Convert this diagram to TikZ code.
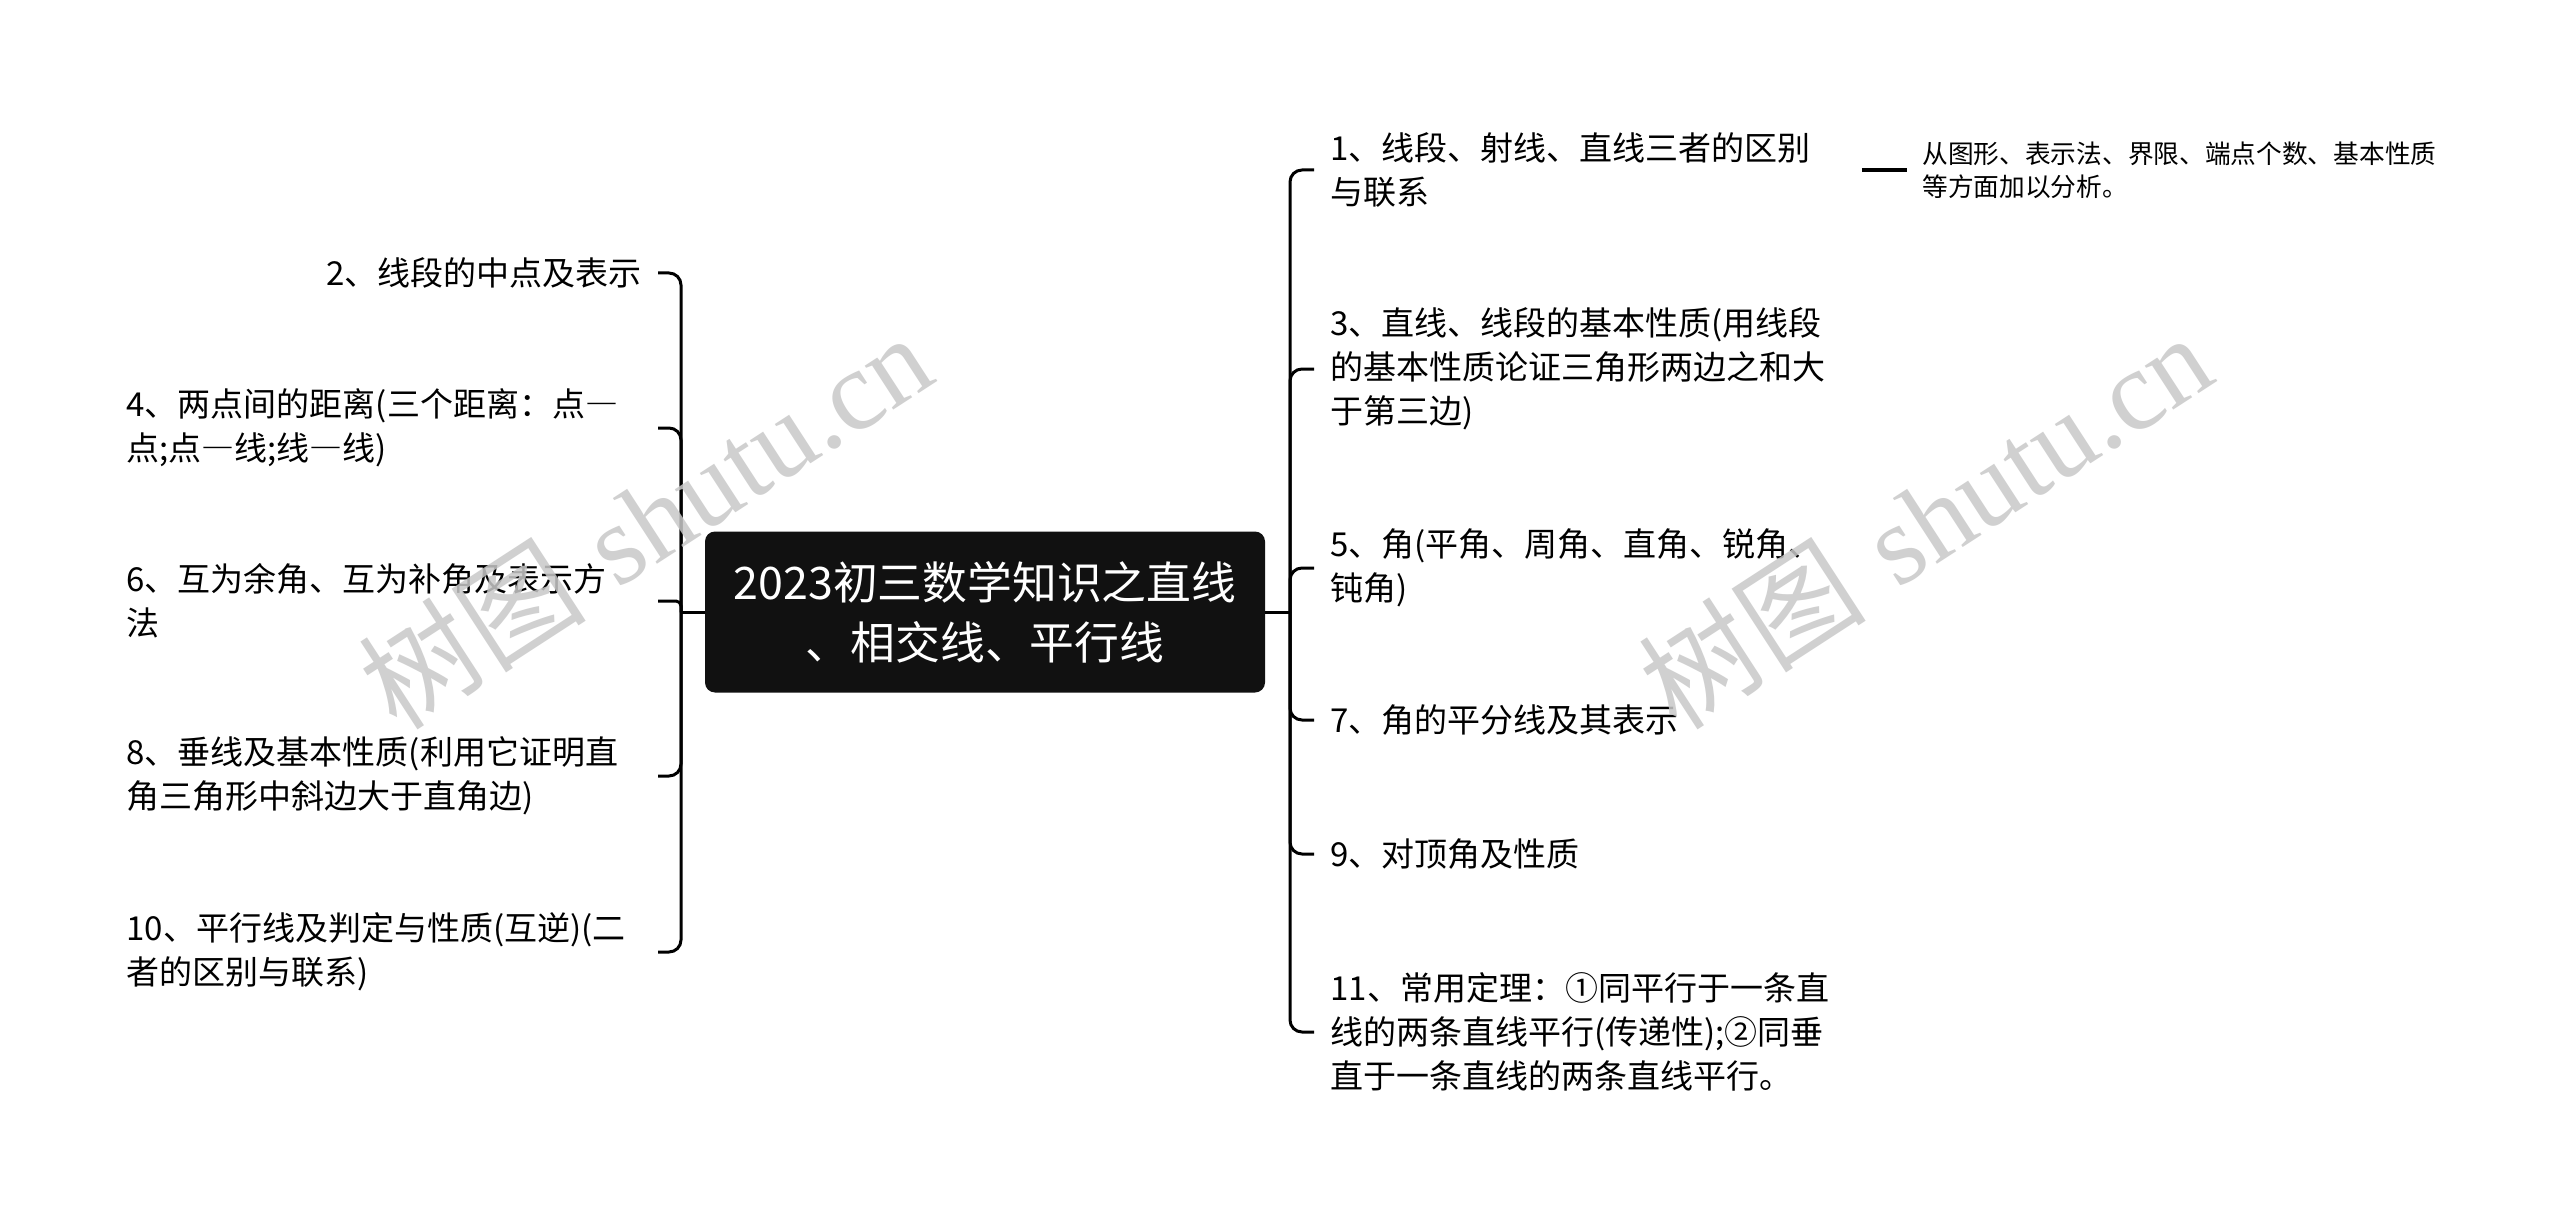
\documentclass[tikz,border=0pt]{standalone}
\usepackage{fontspec}
\newfontfamily\cjk{Noto Sans CJK SC}
\newfontfamily\wmserif{Liberation Serif}
\newcommand{\fwdash}{{\addfontfeature{CharacterWidth=Full}—}}
\definecolor{rootfill}{RGB}{17,17,17}
\definecolor{wmgray}{RGB}{200,200,200}
\tikzset{
  conn/.style={draw=black, line width=1.5pt},
  rootbox/.style={fill=rootfill, draw=none, rounded corners=5pt, text=white,
    minimum width=280pt, minimum height=80.5pt, inner sep=0pt, align=center,
    font=\cjk\fontsize{22.4}{30}\selectfont},
  leaf/.style={inner xsep=8pt, inner ysep=2pt, text=black,
    font=\cjk\fontsize{16.5}{22}\selectfont},
  leafw/.style={leaf, text width=257.5pt, align=left},
  detail/.style={inner xsep=7.5pt, inner ysep=2pt, align=left, text=black,
    font=\cjk\fontsize{12.85}{16.5}\selectfont},
  wm/.style={text=wmgray, opacity=0.85, inner sep=0pt, font=\fontsize{57}{64}\selectfont}
}
\begin{document}
\begin{tikzpicture}[x=0.5pt,y=-0.5pt]
\fill[white] (0,0) rectangle (2560,1225);
\useasboundingbox (0,0) rectangle (2560,1225);

\node[rootbox] (root) at (985,612) {2023初三数学知识之直线\\、相交线、平行线};

\coordinate (jl) at (681,612);
\coordinate (jr) at (1290,612);

% left
\node[leaf, anchor=east] (c2) at (658,273) {2、线段的中点及表示};
\node[leafw, anchor=east] (c4) at (658,428) {4、两点间的距离(三个距离：点\fwdash\\点;点\fwdash 线;线\fwdash 线)};
\node[leafw, anchor=east] (c6) at (658,601) {6、互为余角、互为补角及表示方\\法};
\node[leafw, anchor=east] (c8) at (658,776) {8、垂线及基本性质(利用它证明直\\角三角形中斜边大于直角边)};
\node[leafw, anchor=east] (c10) at (658,952) {10、平行线及判定与性质(互逆)(二\\者的区别与联系)};

% right
\node[leafw, anchor=west] (c1) at (1314,170) {1、线段、射线、直线三者的区别\\与联系};
\node[leafw, anchor=west] (c3) at (1314,369) {3、直线、线段的基本性质(用线段\\的基本性质论证三角形两边之和大\\于第三边)};
\node[leafw, anchor=west] (c5) at (1314,568) {5、角(平角、周角、直角、锐角、\\钝角)};
\node[leafw, anchor=west] (c7) at (1314,720) {7、角的平分线及其表示};
\node[leafw, anchor=west] (c9) at (1314,854) {9、对顶角及性质};
\node[leafw, anchor=west] (c11) at (1314,1032) {11、常用定理：①同平行于一条直\\线的两条直线平行(传递性);②同垂\\直于一条直线的两条直线平行。};

\node[detail, anchor=west] (d1) at (1907,170) {从图形、表示法、界限、端点个数、基本性质\\等方面加以分析。};

% connectors
\draw[conn] (root.west) -- (jl);
\draw[conn] (root.east) -- (jr);
\draw[conn, rounded corners=6pt] (jl) |- (c2.east);
\draw[conn, rounded corners=6pt] (jl) |- (c4.east);
\draw[conn, rounded corners=2.5pt] (jl) |- (c6.east);
\draw[conn, rounded corners=6pt] (jl) |- (c8.east);
\draw[conn, rounded corners=6pt] (jl) |- (c10.east);
\draw[conn, rounded corners=6pt] (jr) |- (c1.west);
\draw[conn, rounded corners=6pt] (jr) |- (c3.west);
\draw[conn, rounded corners=6pt] (jr) |- (c5.west);
\draw[conn, rounded corners=6pt] (jr) |- (c7.west);
\draw[conn, rounded corners=6pt] (jr) |- (c9.west);
\draw[conn, rounded corners=6pt] (jr) |- (c11.west);
\draw[conn, line width=2pt] (c1.east) -- (d1.west);

% watermarks
\node[wm, rotate=33] (wm1) at (645,520) {{\cjk 树图} {\wmserif shutu.cn}};
\node[wm, rotate=33] (wm2) at (1925,520) {{\cjk 树图} {\wmserif shutu.cn}};
\end{tikzpicture}
\end{document}
